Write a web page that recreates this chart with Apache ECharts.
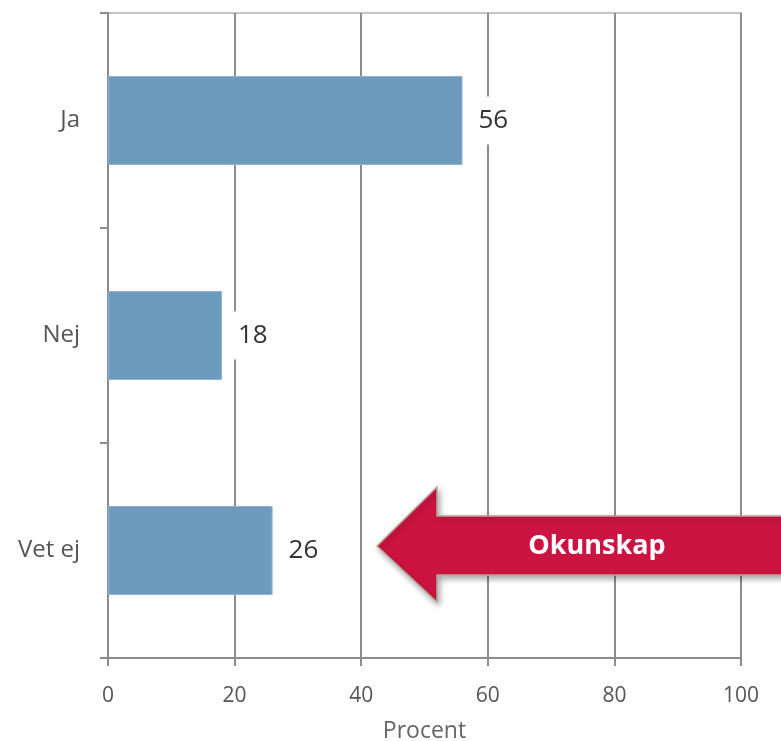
<!DOCTYPE html>
<html>
<head>
<meta charset="utf-8">
<script src="https://cdn.jsdelivr.net/npm/echarts@6/dist/echarts.min.js"></script>
<style>
  html, body { margin: 0; padding: 0; background: #fff; }
  #chart { width: 781px; height: 741px; }
</style>
</head>
<body>
<div id="chart"></div>
<script>
// data
const categories = ['Ja', 'Nej', 'Vet ej']
const values = [56, 18, 26]
const axisName = 'Procent'
const arrowText = 'Okunskap'

const font = "'Open Sans', sans-serif"
const gridColor = '#8c8c8c'

const chart = echarts.init(document.getElementById('chart'))
chart.setOption({
  animation: false,
  grid: {
    left: 108,
    right: 40,
    top: 13,
    bottom: 83,
    outerBoundsMode: 'none',
    containLabel: false,
    show: true,
    borderColor: '#c4c4c4',
    borderWidth: 2
  },
  xAxis: {
    type: 'value',
    min: 0,
    max: 100,
    interval: 20,
    name: axisName,
    nameLocation: 'middle',
    nameGap: 62,
    nameTextStyle: { fontFamily: font, fontSize: 23, color: '#666' },
    axisLine: { show: true, lineStyle: { color: gridColor, width: 2 } },
    axisTick: { show: true, length: 8, lineStyle: { color: gridColor, width: 2 } },
    axisLabel: { margin: 28, fontFamily: font, fontSize: 21, color: '#555' },
    splitLine: { show: true, lineStyle: { color: gridColor, width: 2 } }
  },
  yAxis: {
    type: 'category',
    data: categories,
    inverse: true,
    axisLine: { show: true, lineStyle: { color: gridColor, width: 2 } },
    axisTick: { show: true, length: 8, lineStyle: { color: gridColor, width: 2 } },
    axisLabel: { margin: 28, fontFamily: font, fontSize: 24, color: '#555' },
    splitLine: { show: false }
  },
  series: [{
    type: 'bar',
    data: values,
    barWidth: 89,
    itemStyle: { color: '#6c9bbe', borderColor: '#8fb3cf', borderWidth: 1 },
    label: {
      show: true,
      position: 'right',
      distance: 10,
      padding: [11, 6],
      backgroundColor: '#fff',
      fontFamily: font,
      fontSize: 26,
      color: '#333'
    }
  }],
  graphic: [{
    type: 'group',
    z: 100,
    children: [{
      type: 'polygon',
      z: 100,
      shape: {
        points: [[377, 546], [437, 487], [437, 516], [800, 516], [800, 575], [437, 575], [437, 602]]
      },
      style: {
        fill: '#cc1442',
        stroke: '#b8a898',
        lineWidth: 1.5,
        shadowBlur: 6,
        shadowColor: 'rgba(0,0,0,0.35)',
        shadowOffsetX: 2,
        shadowOffsetY: 3
      }
    }, {
      type: 'text',
      z: 101,
      x: 597,
      y: 546,
      style: {
        text: arrowText,
        fill: '#fff',
        font: "bold 27px 'Open Sans', sans-serif",
        align: 'center',
        verticalAlign: 'middle'
      }
    }]
  }]
})
</script>
</body>
</html>
